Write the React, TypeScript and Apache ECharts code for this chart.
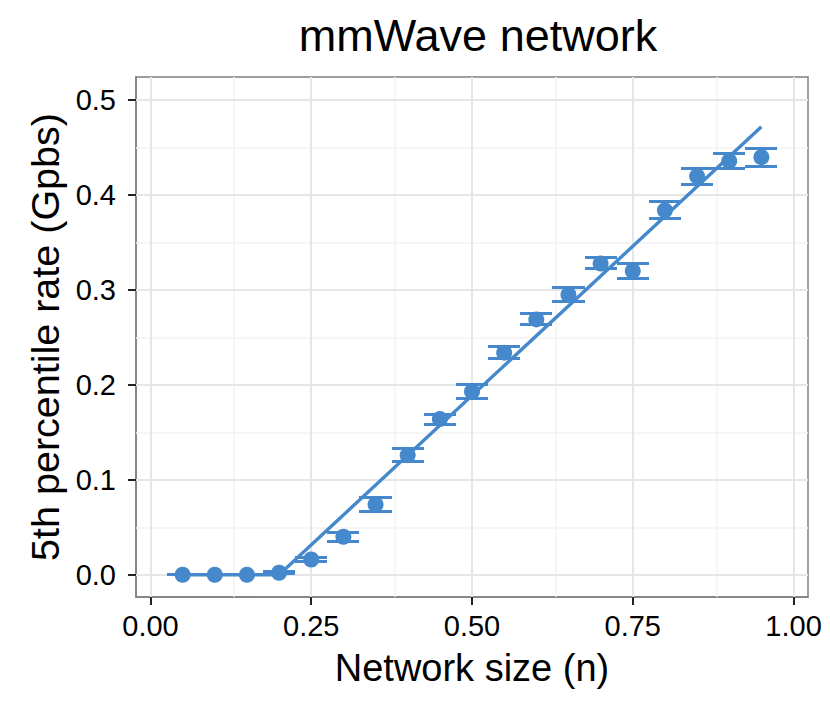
import React, { useEffect, useRef } from "react";
import * as echarts from "echarts";

const networkSize = [0.05, 0.1, 0.15, 0.2, 0.25, 0.3, 0.35, 0.4, 0.45, 0.5, 0.55, 0.6, 0.65, 0.7, 0.75, 0.8, 0.85, 0.9, 0.95];
const rate5th = [0, 0, 0, 0.002, 0.016, 0.04, 0.074, 0.126, 0.164, 0.193, 0.234, 0.269, 0.295, 0.328, 0.32, 0.384, 0.42, 0.436, 0.44];
const rateError = [0, 0, 0, 0.001, 0.002, 0.005, 0.007, 0.007, 0.0053, 0.0074, 0.0063, 0.0058, 0.0074, 0.0058, 0.0079, 0.0089, 0.0084, 0.0079, 0.0095];
const fitX = [0.05, 0.2, 0.95];
const fitY = [0, 0, 0.472];
const xTicks = [0, 0.25, 0.5, 0.75, 1];
const yTicks = [0, 0.1, 0.2, 0.3, 0.4, 0.5];
const xMinor = [0.125, 0.375, 0.625, 0.875];
const yMinor = [0.05, 0.15, 0.25, 0.35, 0.45];

const BLUE = "#4589cc";
const FONT = "'Liberation Sans', Arial, Helvetica, sans-serif";
const CAP_HALF = 0.025;
const STROKE = 3;

export default function App() {
  const ref = useRef<HTMLDivElement>(null);
  useEffect(() => {
    if (!ref.current) return;
    const chart = echarts.init(ref.current, undefined, { renderer: "svg" });
    const gridLines = [
      ...xMinor.map((v) => ({ xAxis: v, lineStyle: { color: "#f3f3f3", width: 1.5, type: "solid" } })),
      ...yMinor.map((v) => ({ yAxis: v, lineStyle: { color: "#f3f3f3", width: 1.5, type: "solid" } })),
      ...xTicks.map((v) => ({ xAxis: v, lineStyle: { color: "#e6e6e6", width: 2, type: "solid" } })),
      ...yTicks.map((v) => ({ yAxis: v, lineStyle: { color: "#e6e6e6", width: 2, type: "solid" } })),
    ];
    const errData = networkSize.map((x, i) => [x, rate5th[i] - rateError[i], rate5th[i] + rateError[i]]);
    chart.setOption({
      animation: false,
      textStyle: { fontFamily: FONT },
      title: {
        text: "mmWave network",
        left: 473,
        top: 8,
        textAlign: "center",
        textStyle: { fontFamily: FONT, fontSize: 45, fontWeight: "normal", color: "#000" },
      },
      grid: {
        left: 136,
        right: 22,
        top: 77,
        bottom: 115,
        show: true,
        z: 0,
        backgroundColor: "#fff",
        borderColor: "#7f7f7f",
        borderWidth: 1.5,
        containLabel: false,
      },
      xAxis: {
        type: "value",
        min: -0.0225,
        max: 1.0225,
        axisLine: { show: true, onZero: false, lineStyle: { color: "#7f7f7f", width: 1.5 } },
        axisTick: { show: true, customValues: xTicks, length: 8, lineStyle: { color: "#222", width: 2 } },
        axisLabel: {
          customValues: xTicks,
          formatter: (v: number) => v.toFixed(2),
          fontSize: 29,
          color: "#000",
          fontFamily: FONT,
          margin: 14,
        },
        splitLine: { show: false },
        name: "Network size (n)",
        nameLocation: "middle",
        nameGap: 52,
        nameTextStyle: { fontSize: 38, color: "#000", fontFamily: FONT },
      },
      yAxis: {
        type: "value",
        min: -0.0235,
        max: 0.5245,
        axisLine: { show: true, onZero: false, lineStyle: { color: "#7f7f7f", width: 1.5 } },
        axisTick: { show: true, customValues: yTicks, length: 8, lineStyle: { color: "#222", width: 2 } },
        axisLabel: {
          customValues: yTicks,
          formatter: (v: number) => v.toFixed(1),
          fontSize: 29,
          color: "#000",
          fontFamily: FONT,
          margin: 20,
        },
        splitLine: { show: false },
        name: "5th percentile rate (Gpbs)",
        nameLocation: "middle",
        nameRotate: 90,
        nameGap: 67,
        nameTextStyle: { fontSize: 39.5, color: "#000", fontFamily: FONT },
      },
      series: [
        {
          type: "line",
          data: [[fitX[0], fitY[0]]],
          showSymbol: false,
          silent: true,
          z: 1,
          lineStyle: { opacity: 0 },
          markLine: {
            z: 1,
            silent: true,
            symbol: ["none", "none"],
            label: { show: false },
            emphasis: { disabled: true },
            data: gridLines,
          },
        },
        {
          type: "custom",
          z: 6,
          silent: true,
          data: errData,
          encode: { x: 0, y: [1, 2] },
          renderItem: (params: any, api: any) => {
            const x = api.value(0);
            const lo = api.value(1);
            const hi = api.value(2);
            const pLo = api.coord([x, lo]);
            const pHi = api.coord([x, hi]);
            const lL = api.coord([x - CAP_HALF, lo]);
            const lR = api.coord([x + CAP_HALF, lo]);
            const xl = Math.round(lL[0]);
            const xr = Math.round(lR[0]);
            const yLo = Math.round(pLo[1] - STROKE / 2);
            const yHi = Math.round(pHi[1] - STROKE / 2);
            const xc = Math.round(pLo[0] - STROKE / 2);
            const style = { fill: BLUE, stroke: "none" };
            return {
              type: "group",
              children: [
                { type: "rect", shape: { x: xc, y: yHi, width: STROKE, height: Math.max(0, yLo - yHi) }, style },
                { type: "rect", shape: { x: xl, y: yLo, width: xr - xl, height: STROKE }, style },
                { type: "rect", shape: { x: xl, y: yHi, width: xr - xl, height: STROKE }, style },
              ],
            };
          },
        },
        {
          type: "scatter",
          z: 7,
          symbol: "circle",
          symbolSize: 16,
          itemStyle: { color: BLUE, opacity: 1 },
          data: networkSize.map((x, i) => [x, rate5th[i]]),
        },
        {
          type: "line",
          z: 8,
          showSymbol: false,
          lineStyle: { color: BLUE, width: 3.4 },
          data: fitX.map((x, i) => [x, fitY[i]]),
        },
      ],
    });
    return () => chart.dispose();
  }, []);
  return (
    <div
      ref={ref}
      style={{ position: "absolute", left: 0, top: 0, width: 830, height: 712, background: "#fff" }}
    />
  );
}
